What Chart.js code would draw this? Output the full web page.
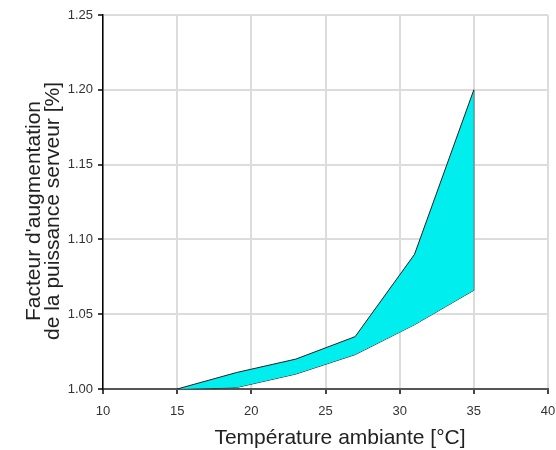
<!DOCTYPE html>
<html>
<head>
<meta charset="utf-8">
<script src="https://cdn.jsdelivr.net/npm/chart.js@4"></script>
<style>
  html, body { margin: 0; padding: 0; background: #fff; }
  #wrap { width: 556px; height: 450px; }
</style>
</head>
<body>
<div id="wrap"><canvas id="powerChart"></canvas></div>
<script>
// temperature points (°C) and the two bounds of the increase factor
const temps = [15, 19, 23, 27, 31, 35];
const upperFactor = [1.000, 1.011, 1.020, 1.035, 1.090, 1.200];
const lowerFactor = [1.000, 1.001, 1.010, 1.023, 1.043, 1.066];

const xTicks = [10, 15, 20, 25, 30, 35, 40];
const yTicks = ['1.00', '1.05', '1.10', '1.15', '1.20', '1.25'];

const xTitle = 'Température ambiante [°C]';
const yTitle = ["Facteur d'augmentation", 'de la puissance serveur [%]'];

const tickFont = { family: "'Liberation Sans', Arial, sans-serif", size: 13 };
const titleFont = "21px 'Liberation Sans', Arial, sans-serif";

const toPoints = (ys) => temps.map((t, i) => ({ x: t, y: ys[i] }));
const last = temps.length - 1;

// axis titles drawn next to the chart area
const axisTitles = {
  id: 'axisTitles',
  afterDraw(chart) {
    const { ctx, chartArea } = chart;
    ctx.save();
    ctx.fillStyle = '#222';
    ctx.font = titleFont;
    ctx.textAlign = 'center';
    ctx.textBaseline = 'alphabetic';
    ctx.fillText(xTitle, chartArea.left + 237, chartArea.bottom + 55);

    ctx.translate(chartArea.left - 63, chartArea.top + 196);
    ctx.rotate(-Math.PI / 2);
    yTitle.forEach((line, i) => ctx.fillText(line, 0, i * 19));
    ctx.restore();
  }
};

const ctx = document.getElementById('powerChart').getContext('2d');
new Chart(ctx, {
  type: 'line',
  data: {
    datasets: [
      {
        data: toPoints(upperFactor),
        borderColor: '#222',
        borderWidth: 1,
        backgroundColor: '#00eeee',
        fill: '+1',
        pointRadius: 0,
        tension: 0
      },
      {
        data: toPoints(lowerFactor),
        borderColor: '#222',
        borderWidth: 1,
        fill: false,
        pointRadius: 0,
        tension: 0
      },
      {
        // closing edge at the last temperature
        data: [{ x: temps[last], y: lowerFactor[last] }, { x: temps[last], y: upperFactor[last] }],
        borderColor: '#222',
        borderWidth: 1,
        fill: false,
        pointRadius: 0
      }
    ]
  },
  options: {
    responsive: true,
    maintainAspectRatio: false,
    animation: false,
    layout: { padding: { top: 15, right: 0, left: 0, bottom: 0 } },
    plugins: {
      legend: { display: false },
      tooltip: { enabled: false }
    },
    scales: {
      x: {
        type: 'linear',
        min: xTicks[0],
        max: xTicks[xTicks.length - 1],
        afterBuildTicks: (scale) => { scale.ticks = xTicks.map(v => ({ value: v })); },
        afterFit: (scale) => {
          scale.height = 61;
          scale.paddingLeft = 0;
          scale.paddingRight = 8;
        },
        grid: { color: '#dcdcdc', lineWidth: 2, tickColor: '#444', tickLength: 5 },
        border: { color: '#555', width: 2 },
        ticks: { font: tickFont, color: '#333', padding: 10, maxRotation: 0 }
      },
      y: {
        type: 'linear',
        min: Number(yTicks[0]),
        max: Number(yTicks[yTicks.length - 1]),
        afterBuildTicks: (scale) => { scale.ticks = yTicks.map(v => ({ value: Number(v) })); },
        afterFit: (scale) => { scale.width = 103; },
        grid: { color: '#dcdcdc', lineWidth: 2, tickColor: '#444', tickLength: 5 },
        border: { color: '#000', width: 1.5 },
        ticks: {
          font: tickFont,
          color: '#333',
          padding: 5,
          callback: (value) => yTicks.find(t => Number(t) === value) || value.toFixed(2)
        }
      }
    }
  },
  plugins: [axisTitles]
});
</script>
</body>
</html>
